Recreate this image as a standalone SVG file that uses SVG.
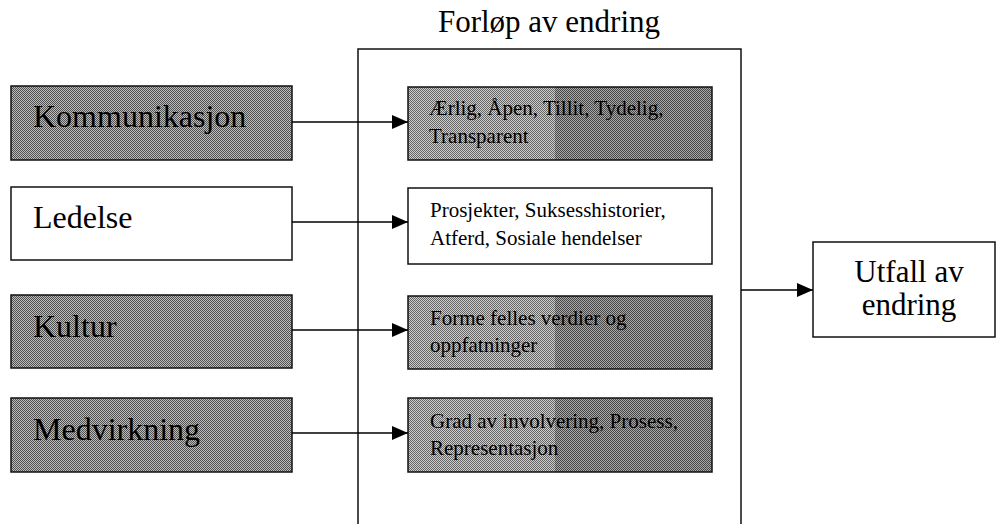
<svg xmlns="http://www.w3.org/2000/svg" width="997" height="524" viewBox="0 0 997 524">
  <defs>
    <!-- halftone-style checker fills -->
    <pattern id="ditherMid" width="2" height="2" patternUnits="userSpaceOnUse">
      <rect width="2" height="2" fill="#bdbdbd"/>
      <rect width="1" height="1" fill="#505050"/>
      <rect x="1" y="1" width="1" height="1" fill="#505050"/>
    </pattern>
    <pattern id="ditherLight" width="2" height="2" patternUnits="userSpaceOnUse">
      <rect width="2" height="2" fill="#cfcfcf"/>
      <rect width="1" height="1" fill="#646464"/>
      <rect x="1" y="1" width="1" height="1" fill="#646464"/>
    </pattern>
    <pattern id="ditherDark" width="2" height="2" patternUnits="userSpaceOnUse">
      <rect width="2" height="2" fill="#a8a8a8"/>
      <rect width="1" height="1" fill="#474747"/>
      <rect x="1" y="1" width="1" height="1" fill="#474747"/>
    </pattern>
    <marker id="arrow" viewBox="0 0 16 14" refX="16" refY="7" markerWidth="16" markerHeight="14" markerUnits="userSpaceOnUse" orient="auto">
      <path d="M0,0 L16,7 L0,14 Z" fill="#000"/>
    </marker>
  </defs>
  <style>
    .box { stroke: #111; stroke-width: 1.5; }
    .plain { fill: #fff; }
    .grey { fill: url(#ditherMid); }
    .conn { stroke: #000; stroke-width: 1.5; fill: none; marker-end: url(#arrow); }
  </style>

  <rect width="997" height="524" fill="#fff"/>

  <g font-family="Liberation Serif, Tinos, DejaVu Serif, Times New Roman, serif" fill="#000">
    <!-- central process frame -->
    <g id="forlop">
      <text x="549" y="32" font-size="31" text-anchor="middle">Forløp av endring</text>
      <path d="M358,526 V49 H741 V526" fill="none" stroke="#111" stroke-width="1.5"/>
    </g>

    <!-- input factors -->
    <g id="kommunikasjon" font-size="32">
      <rect class="box grey" x="11" y="86" width="281" height="74"/>
      <text x="33" y="127">Kommunikasjon</text>
    </g>
    <g id="ledelse" font-size="32">
      <rect class="box plain" x="11" y="187" width="281" height="73"/>
      <text x="33" y="228">Ledelse</text>
    </g>
    <g id="kultur" font-size="32">
      <rect class="box grey" x="11" y="295" width="281" height="73"/>
      <text x="33" y="337">Kultur</text>
    </g>
    <g id="medvirkning" font-size="32">
      <rect class="box grey" x="11" y="398" width="281" height="74"/>
      <text x="33" y="440">Medvirkning</text>
    </g>

    <!-- change activities -->
    <g id="aerlig" font-size="21">
      <rect x="408" y="87" width="147" height="73" fill="url(#ditherLight)"/>
      <rect x="555" y="87" width="157" height="73" fill="url(#ditherDark)"/>
      <rect class="box" x="408" y="87" width="304" height="73" fill="none"/>
      <text x="429" y="115">Ærlig, Åpen, Tillit, Tydelig,</text>
      <text x="429" y="143">Transparent</text>
    </g>
    <g id="prosjekter" font-size="21">
      <rect class="box plain" x="408" y="188" width="304" height="76"/>
      <text x="430" y="217">Prosjekter, Suksesshistorier,</text>
      <text x="430" y="245">Atferd, Sosiale hendelser</text>
    </g>
    <g id="forme" font-size="21">
      <rect x="408" y="296" width="147" height="73" fill="url(#ditherLight)"/>
      <rect x="555" y="296" width="157" height="73" fill="url(#ditherDark)"/>
      <rect class="box" x="408" y="296" width="304" height="73" fill="none"/>
      <text x="430" y="325">Forme felles verdier og</text>
      <text x="430" y="352">oppfatninger</text>
    </g>
    <g id="grad" font-size="21">
      <rect x="408" y="398" width="147" height="74" fill="url(#ditherLight)"/>
      <rect x="555" y="398" width="157" height="74" fill="url(#ditherDark)"/>
      <rect class="box" x="408" y="398" width="304" height="74" fill="none"/>
      <text x="430" y="428">Grad av involvering, Prosess,</text>
      <text x="430" y="455">Representasjon</text>
    </g>

    <!-- outcome -->
    <g id="utfall" font-size="31">
      <rect class="box plain" x="813" y="242" width="182" height="95"/>
      <text x="909" y="282" text-anchor="middle">Utfall av</text>
      <text x="909" y="315" text-anchor="middle">endring</text>
    </g>
  </g>

  <!-- connectors -->
  <g id="connectors">
    <line class="conn" x1="292" y1="122" x2="408" y2="122"/>
    <line class="conn" x1="292" y1="222" x2="408" y2="222"/>
    <line class="conn" x1="292" y1="330" x2="408" y2="330"/>
    <line class="conn" x1="292" y1="433" x2="408" y2="433"/>
    <line class="conn" x1="741" y1="290" x2="813" y2="290"/>
  </g>
</svg>
